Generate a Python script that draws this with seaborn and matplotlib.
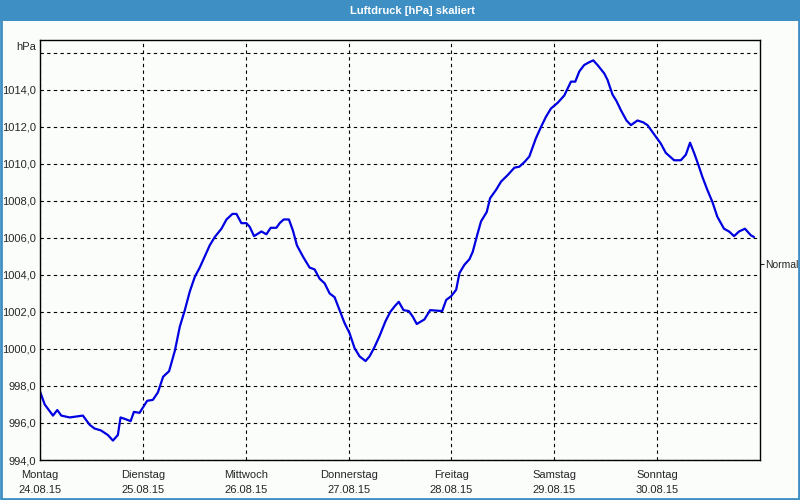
import matplotlib
matplotlib.use("Agg")
import matplotlib.pyplot as plt
import matplotlib.patches as patches
import seaborn as sns

# Zeit in Tagen ab Montag 24.08.15 00:00
tage = [0.0, 0.013, 0.046, 0.126, 0.168, 0.207, 0.288, 0.417, 0.483, 0.531, 0.592,
        0.660, 0.709, 0.757, 0.783, 0.835, 0.881, 0.913, 0.968, 1.042, 1.097,
        1.146, 1.197, 1.255, 1.311, 1.359, 1.408, 1.456, 1.505, 1.553, 1.602,
        1.650, 1.699, 1.764, 1.813, 1.871, 1.910, 1.958, 2.007, 2.039, 2.081,
        2.152, 2.201, 2.243, 2.298, 2.330, 2.369, 2.420, 2.459, 2.498, 2.556,
        2.621, 2.670, 2.718, 2.767, 2.816, 2.864, 2.913, 2.961, 3.010, 3.058,
        3.107, 3.165, 3.204, 3.252, 3.301, 3.359, 3.405, 3.447, 3.488, 3.534,
        3.585, 3.624, 3.663, 3.738, 3.793, 3.910, 3.949, 3.997, 4.046, 4.078,
        4.126, 4.175, 4.207, 4.255, 4.288, 4.343, 4.376, 4.434, 4.483, 4.547,
        4.612, 4.660, 4.709, 4.757, 4.822, 4.871, 4.919, 4.968, 5.032, 5.097,
        5.162, 5.204, 5.243, 5.291, 5.340, 5.379, 5.420, 5.485, 5.517, 5.566,
        5.605, 5.648, 5.702, 5.745, 5.809, 5.864, 5.906, 5.971, 6.036, 6.084,
        6.165, 6.230, 6.279, 6.320, 6.359, 6.401, 6.440, 6.488, 6.537, 6.585,
        6.650, 6.699, 6.748, 6.796, 6.854, 6.910, 6.942]

druck = [997.7, 997.5, 997.0, 996.4, 996.7, 996.4, 996.3, 996.4, 995.9, 995.7, 995.6,
         995.35, 995.05, 995.35, 996.3, 996.2, 996.1, 996.6, 996.55, 997.2, 997.25,
         997.65, 998.5, 998.8, 999.9, 1001.2, 1002.1, 1003.1, 1003.9, 1004.4, 1005.0,
         1005.6, 1006.05, 1006.5, 1007.0, 1007.3, 1007.3, 1006.8, 1006.8, 1006.6, 1006.1,
         1006.35, 1006.2, 1006.55, 1006.55, 1006.8, 1007.0, 1007.0, 1006.4, 1005.6, 1005.0,
         1004.4, 1004.3, 1003.8, 1003.55, 1003.0, 1002.8, 1002.1, 1001.4, 1000.85, 1000.05,
         999.6, 999.35, 999.6, 1000.1, 1000.7, 1001.5, 1002.0, 1002.3, 1002.55, 1002.1,
         1002.05, 1001.75, 1001.35, 1001.6, 1002.1, 1002.05, 1002.65, 1002.85, 1003.2, 1004.1,
         1004.55, 1004.85, 1005.25, 1006.25, 1006.9, 1007.4, 1008.15, 1008.6, 1009.05, 1009.4,
         1009.8, 1009.85, 1010.1, 1010.4, 1011.4, 1012.0, 1012.55, 1013.0, 1013.3, 1013.7,
         1014.45, 1014.45, 1015.0, 1015.35, 1015.5, 1015.6, 1015.35, 1014.9, 1014.55, 1013.75,
         1013.4, 1012.9, 1012.35, 1012.1, 1012.35, 1012.25, 1012.1, 1011.6, 1011.1, 1010.6,
         1010.2, 1010.2, 1010.5, 1011.15, 1010.6, 1009.95, 1009.3, 1008.6, 1007.95, 1007.15,
         1006.5, 1006.35, 1006.1, 1006.35, 1006.5, 1006.15, 1006.05]

wochentage = ["Montag", "Dienstag", "Mittwoch", "Donnerstag", "Freitag", "Samstag", "Sonntag"]
daten = ["24.08.15", "25.08.15", "26.08.15", "27.08.15", "28.08.15", "29.08.15", "30.08.15"]
y_ticks = [994, 996, 998, 1000, 1002, 1004, 1006, 1008, 1010, 1012, 1014, 1016]
normal_wert = 1004.6

sns.set_style("white")
plt.rcParams["font.family"] = ["Liberation Sans", "DejaVu Sans"]

bg = "#fbfdfb"
blau = "#3d8fc4"
fs = 8

fig = plt.figure(figsize=(8, 5), dpi=100, facecolor=bg)
ax = fig.add_axes([0.05, 0.08, 0.90, 0.84], facecolor=bg)

sns.lineplot(x=tage, y=druck, ax=ax, color="#0000e0", linewidth=1.6)

ax.set_xlim(0, 7)
ax.set_ylim(994, 1016.7)
ax.set_xticks(range(7))
ax.set_xticklabels([])
ax.set_yticks(y_ticks)
ax.set_yticklabels([f"{v},0" if v < 1016 else "" for v in y_ticks], fontsize=fs)
ax.tick_params(axis="y", length=0, pad=3)
ax.tick_params(axis="x", direction="out", length=3, width=0.8, color="black")

# Tagesbeschriftung in zwei Zeilen
trans = ax.get_xaxis_transform()
for i, (w, d) in enumerate(zip(wochentage, daten)):
    ax.text(i, -15 / 420, w, transform=trans, ha="center", va="center", fontsize=fs)
    ax.text(i, -30 / 420, d, transform=trans, ha="center", va="center", fontsize=fs)

ax.grid(True, color="black", linestyle=(0, (3, 3)), linewidth=0.8)
for s in ax.spines.values():
    s.set_color("black")
    s.set_linewidth(1.0)

# rechte Achse mit "Normal"
sec = ax.secondary_yaxis("right")
sec.set_yticks([normal_wert])
sec.set_yticklabels(["Normal"], fontsize=7.5)
sec.tick_params(direction="out", length=3, width=0.8, pad=1)
sec.spines["right"].set_visible(False)

fig.text(0.045, 0.906, "hPa", ha="right", va="center", fontsize=fs)

# Titelbalken
fig.patches.append(patches.Rectangle((0, 1 - 21 / 500), 1, 21 / 500, transform=fig.transFigure,
                                     facecolor=blau, edgecolor="none", zorder=0))
fig.text(0.515, 1 - 10.5 / 500, "Luftdruck [hPa] skaliert", ha="center", va="center",
         color="white", fontsize=fs, fontweight="bold")
# Rahmen
fig.patches.append(patches.Rectangle((0.001, 0.002), 0.998, 0.996, transform=fig.transFigure,
                                     facecolor="none", edgecolor=blau, linewidth=2, zorder=0))

fig.savefig("out.png", dpi=100, facecolor=bg)
